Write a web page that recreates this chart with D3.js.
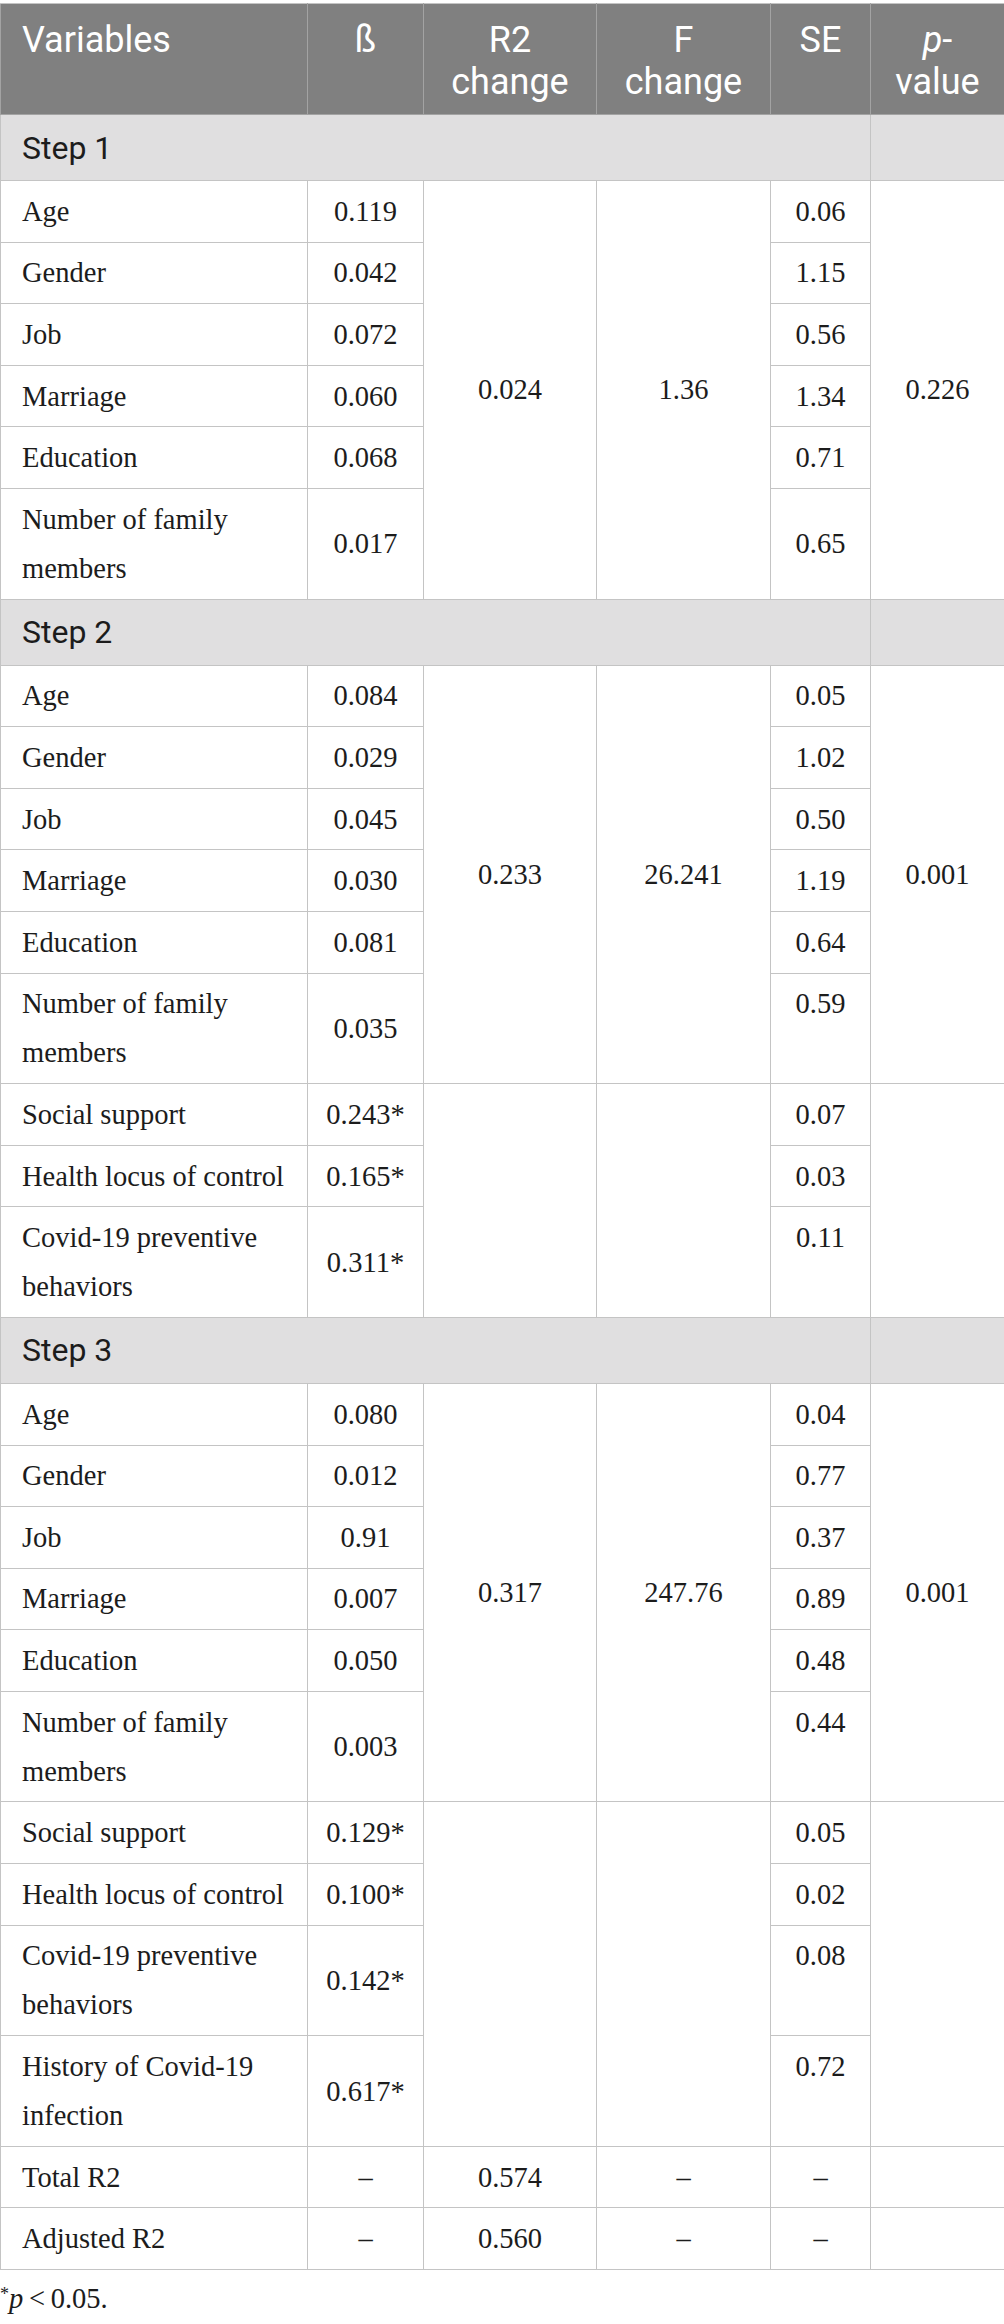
<!DOCTYPE html>
<html>
<head>
<meta charset="utf-8">
<script src="https://cdn.jsdelivr.net/npm/d3@7/dist/d3.min.js"></script>
<style>
  html, body { margin: 0; padding: 0; background: #fff; }
  #wrap { width: 1004px; padding-top: 3px; }
  table { border-collapse: collapse; table-layout: fixed; width: 1004px; }
  td, th { border: 1.5px solid #c4c4c4; }
  th {
    background: #808080; color: #fff; font-family: Roboto, "Open Sans", sans-serif;
    font-weight: 400; font-size: 36px; line-height: 42px; vertical-align: top;
    padding: 15px 4px 11px 4px; text-align: center; border-color: #a3a3a3;
    border-top-color: #c4c4c4;
  }
  th.left { text-align: left; padding-left: 21px; }
  td {
    font-family: "Liberation Serif", "Times New Roman", serif; font-size: 28.5px;
    line-height: 49px; color: #1c1c1c; padding: 5.8px 6px; text-align: center;
    vertical-align: middle;
  }
  td.label { text-align: left; padding-left: 21px; padding-right: 10px; }
  td.top { vertical-align: top; }
  tr.step td {
    background: #e0dfe0; font-family: Roboto, "Open Sans", sans-serif; font-size: 32px;
    line-height: 40px; padding: 12.5px 6px 12.5px 21px; text-align: left; color: #1c1c1c;
  }
  .note { font-family: "Liberation Serif", serif; font-size: 28.5px; line-height: 40px;
          color: #1c1c1c; margin-top: 9px; }
  .note sup { font-size: 18px; vertical-align: 8px; line-height: 0; }
</style>
</head>
<body>
<div id="wrap"></div>
<script>
// ---- data ----
const headers = ["Variables", "ß", "R2 change", "F change", "SE", "p-value"];
const steps = ["Step 1", "Step 2", "Step 3"];
const baseVars = ["Age", "Gender", "Job", "Marriage", "Education", "Number of family members"];
const baseBeta = [
  ["0.119", "0.042", "0.072", "0.060", "0.068", "0.017"],
  ["0.084", "0.029", "0.045", "0.030", "0.081", "0.035"],
  ["0.080", "0.012", "0.91", "0.007", "0.050", "0.003"]
];
const baseSE = [
  ["0.06", "1.15", "0.56", "1.34", "0.71", "0.65"],
  ["0.05", "1.02", "0.50", "1.19", "0.64", "0.59"],
  ["0.04", "0.77", "0.37", "0.89", "0.48", "0.44"]
];
const extraVars = [
  [],
  ["Social support", "Health locus of control", "Covid-19 preventive behaviors"],
  ["Social support", "Health locus of control", "Covid-19 preventive behaviors", "History of Covid-19 infection"]
];
const extraBeta = [
  [],
  ["0.243*", "0.165*", "0.311*"],
  ["0.129*", "0.100*", "0.142*", "0.617*"]
];
const extraSE = [
  [],
  ["0.07", "0.03", "0.11"],
  ["0.05", "0.02", "0.08", "0.72"]
];
const r2Change = ["0.024", "0.233", "0.317"];
const fChange = ["1.36", "26.241", "247.76"];
const pValue = ["0.226", "0.001", "0.001"];
const summaryLabels = ["Total R2", "Adjusted R2"];
const summaryBeta = ["–", "–"];
const summaryR2 = ["0.574", "0.560"];
const summaryF = ["–", "–"];
const summarySE = ["–", "–"];
const colWidths = [307, 116, 173, 174, 100, 134];

// ---- build rows ----
const rows = [];
steps.forEach((s, si) => {
  rows.push({ type: "step", cells: [{ text: s, colspan: 5 }, { text: "" }] });
  baseVars.forEach((v, i) => {
    const cells = [
      { text: v, cls: "label" },
      { text: baseBeta[si][i] }
    ];
    if (i === 0) {
      cells.push({ text: r2Change[si], rowspan: baseVars.length });
      cells.push({ text: fChange[si], rowspan: baseVars.length });
    }
    cells.push({ text: baseSE[si][i], cls: (si > 0 && i === baseVars.length - 1) ? "top" : "" });
    if (i === 0) cells.push({ text: pValue[si], rowspan: baseVars.length });
    rows.push({ type: "body", cells });
  });
  const ev = extraVars[si];
  ev.forEach((v, i) => {
    const cells = [
      { text: v, cls: "label" },
      { text: extraBeta[si][i] }
    ];
    if (i === 0) {
      cells.push({ text: "", rowspan: ev.length });
      cells.push({ text: "", rowspan: ev.length });
    }
    cells.push({ text: extraSE[si][i], cls: "top" });
    if (i === 0) cells.push({ text: "", rowspan: ev.length });
    rows.push({ type: "body", cells });
  });
});
summaryLabels.forEach((l, i) => {
  rows.push({ type: "body", cells: [
    { text: l, cls: "label" }, { text: summaryBeta[i] }, { text: summaryR2[i] },
    { text: summaryF[i] }, { text: summarySE[i] }, { text: "" }
  ]});
});

// ---- render ----
const table = d3.select("#wrap").append("table");
table.append("colgroup").selectAll("col").data(colWidths).join("col")
  .style("width", d => d + "px");

const thead = table.append("thead").append("tr");
thead.selectAll("th").data(headers).join("th")
  .attr("class", (d, i) => i === 0 ? "left" : null)
  .each(function (d) {
    const th = d3.select(this);
    if (d === "p-value") {
      th.append("i").text("p");
      th.append("span").text("-");
      th.append("br");
      th.append("span").text("value");
    } else if (d.includes(" ") && d !== "Variables") {
      const parts = d.split(" ");
      th.append("span").text(parts[0]);
      th.append("br");
      th.append("span").text(parts.slice(1).join(" "));
    } else {
      th.text(d);
    }
  });

const tbody = table.append("tbody");
const tr = tbody.selectAll("tr").data(rows).join("tr")
  .attr("class", d => d.type);
tr.selectAll("td").data(d => d.cells).join("td")
  .attr("colspan", d => d.colspan || null)
  .attr("rowspan", d => d.rowspan || null)
  .attr("class", d => d.cls || null)
  .text(d => d.text);

const note = d3.select("#wrap").append("div").attr("class", "note");
note.append("sup").text("*");
note.append("i").text("p");
note.append("span").text("\u2009<\u20090.05.");
</script>
</body>
</html>
